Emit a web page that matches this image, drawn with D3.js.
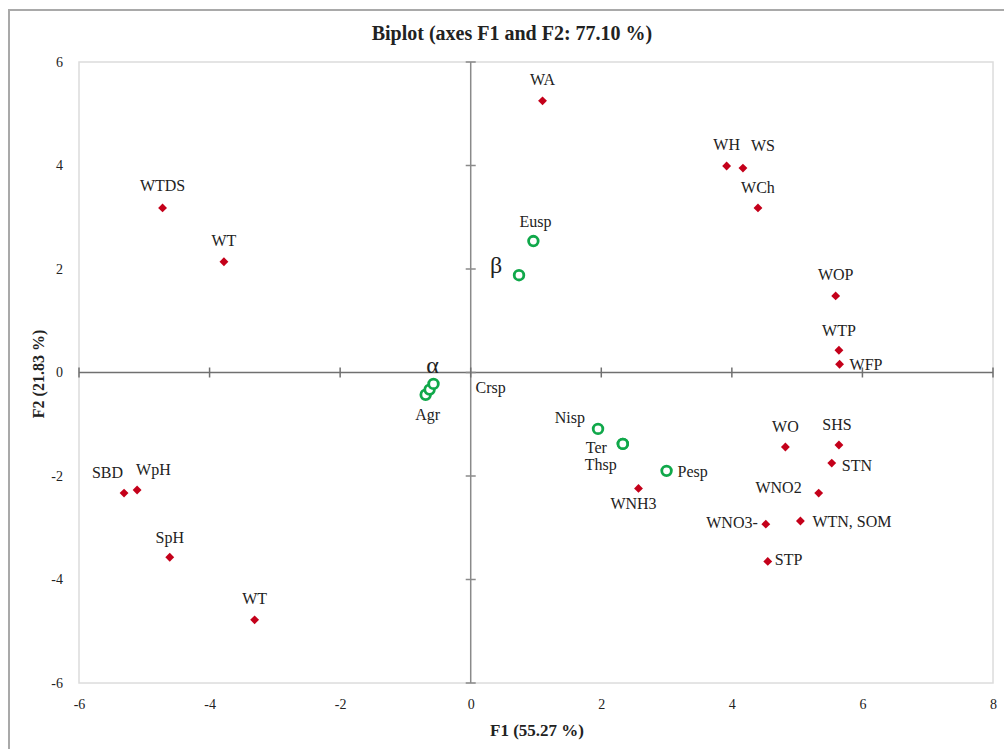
<!DOCTYPE html>
<html>
<head>
<meta charset="utf-8">
<script src="https://cdn.jsdelivr.net/npm/d3@7/dist/d3.min.js"></script>
<style>
  html, body { margin: 0; padding: 0; background: #fff; }
  svg text { font-family: "Liberation Serif", "DejaVu Serif", serif; fill: #222; }
</style>
</head>
<body>
<svg id="chart" width="1004" height="749"></svg>
<script>
// ---- data ----
const varNames = ["WA","WH","WS","WCh","WOP","WTP","WFP","WTDS","WT","SBD","WpH","SpH","WT","WNH3","WO","SHS","STN","WNO2","WNO3-","WTN, SOM","STP"];
const varF1 = [1.10, 3.92, 4.17, 4.40, 5.59, 5.64, 5.65, -4.72, -3.78, -5.31, -5.11, -4.61, -3.31, 2.57, 4.82, 5.64, 5.53, 5.33, 4.52, 5.05, 4.55];
const varF2 = [5.25, 3.99, 3.95, 3.18, 1.48, 0.43, 0.16, 3.18, 2.14, -2.33, -2.27, -3.57, -4.78, -2.24, -1.44, -1.40, -1.75, -2.33, -2.93, -2.87, -3.65];

const obsNames = ["Eusp","β","Nisp","Ter","Thsp","Pesp","Agr","α","Crsp"];
const obsF1 = [0.96, 0.74, 1.95, 2.33, 2.33, 3.00, -0.69, -0.63, -0.57];
const obsF2 = [2.54, 1.88, -1.09, -1.38, -1.38, -1.90, -0.43, -0.33, -0.22];

const xTicks = [-6, -4, -2, 0, 2, 4, 6, 8];
const yTicks = [-6, -4, -2, 0, 2, 4, 6];

const titleText = "Biplot (axes F1 and F2: 77.10 %)";
const xTitle = "F1 (55.27 %)";
const yTitle = "F2 (21.83 %)";

// ---- label layout (pixel offsets from the marker) ----
const varLabelLayout = [
  [0,-21,"middle"],[0,-22,"middle"],[20,-23,"middle"],[0,-20,"middle"],[0,-21,"middle"],
  [0,-20,"middle"],[10,0,"start"],[0,-22,"middle"],[0,-21,"middle"],[-1,-21,"end"],
  [-1,-20,"start"],[0,-20,"middle"],[0,-21,"middle"],[-5,15,"middle"],[0,-21,"middle"],
  [-2,-20,"middle"],[10,2,"start"],[-17,-6,"end"],[-8,-2,"end"],[12,0,"start"],[7,-2,"start"]
];
const obsLabelLayout = [
  [2,-20,"middle"],[-23,-10,"middle"],[-13,-11,"end"],[-16,4,"end"],[-6,21,"end"],
  [11,1,"start"],[2,20,"middle"],[3,-25,"middle"],[42,4,"start"]
];
const greek = new Set(["α","β"]);

// ---- layout ----
const svg = d3.select("#chart");
const plot = {left: 79, right: 993, top: 62, bottom: 683};

const x = d3.scaleLinear().domain([-6, 8]).range([plot.left, plot.right]);
const y = d3.scaleLinear().domain([-6, 6]).range([plot.bottom, plot.top]);

// outer frame
svg.append("rect")
  .attr("x", 9).attr("y", 10).attr("width", 1100).attr("height", 900)
  .attr("fill", "none").attr("stroke", "#a9a9a9").attr("stroke-width", 2);

// plot area border
svg.append("rect")
  .attr("x", plot.left).attr("y", plot.top)
  .attr("width", plot.right - plot.left).attr("height", plot.bottom - plot.top)
  .attr("fill", "none").attr("stroke", "#dcdcdc").attr("stroke-width", 1.5);

// title
svg.append("text")
  .attr("x", 512).attr("y", 33)
  .attr("text-anchor", "middle").attr("dominant-baseline", "central")
  .attr("font-weight", "bold").attr("font-size", 20)
  .text(titleText);

// tick labels via axes (on plot edges, no lines)
const xAxis = svg.append("g")
  .attr("transform", `translate(0,${plot.bottom})`)
  .call(d3.axisBottom(x).tickValues(xTicks).tickSize(0).tickPadding(16).tickFormat(d => String(d)));
const yAxis = svg.append("g")
  .attr("transform", `translate(${plot.left},0)`)
  .call(d3.axisLeft(y).tickValues(yTicks).tickSize(0).tickPadding(16).tickFormat(d => String(d)));
[xAxis, yAxis].forEach(g => {
  g.select(".domain").remove();
  g.selectAll("text").attr("font-size", 14).attr("fill", "#333");
});

// zero axis lines with crossing ticks
const axisColor = "#8a8a8a";
svg.append("line")
  .attr("x1", x(0)).attr("x2", x(0)).attr("y1", plot.top).attr("y2", plot.bottom)
  .attr("stroke", axisColor).attr("stroke-width", 1.5);
svg.append("line")
  .attr("x1", plot.left).attr("x2", plot.right).attr("y1", y(0)).attr("y2", y(0))
  .attr("stroke", "#707070").attr("stroke-width", 1.5);
svg.append("g").selectAll("line").data(yTicks).join("line")
  .attr("x1", x(0) - 5).attr("x2", x(0) + 5)
  .attr("y1", d => y(d)).attr("y2", d => y(d))
  .attr("stroke", axisColor).attr("stroke-width", 1.5);
svg.append("g").selectAll("line").data(xTicks).join("line")
  .attr("y1", y(0) - 5).attr("y2", y(0) + 5)
  .attr("x1", d => x(d)).attr("x2", d => x(d))
  .attr("stroke", "#707070").attr("stroke-width", 1.5);

// axis titles
svg.append("text")
  .attr("x", 537).attr("y", 730)
  .attr("text-anchor", "middle").attr("dominant-baseline", "central")
  .attr("font-weight", "bold").attr("font-size", 17)
  .text(xTitle);
svg.append("text")
  .attr("transform", `translate(38,374) rotate(-90)`)
  .attr("text-anchor", "middle").attr("dominant-baseline", "central")
  .attr("font-weight", "bold").attr("font-size", 16)
  .text(yTitle);

// variables: red diamonds
const vars = varNames.map((n, i) => ({name: n, f1: varF1[i], f2: varF2[i], lay: varLabelLayout[i]}));
const diamond = d3.symbol().type(d3.symbolDiamond2).size(50);
svg.append("g").selectAll("path").data(vars).join("path")
  .attr("d", diamond)
  .attr("transform", d => `translate(${x(d.f1)},${y(d.f2)})`)
  .attr("fill", "#c4001a");
svg.append("g").selectAll("text").data(vars).join("text")
  .attr("x", d => x(d.f1) + d.lay[0])
  .attr("y", d => y(d.f2) + d.lay[1])
  .attr("text-anchor", d => d.lay[2])
  .attr("dominant-baseline", "central")
  .attr("font-size", 16)
  .text(d => d.name);

// observations: green open circles
const obs = obsNames.map((n, i) => ({name: n, f1: obsF1[i], f2: obsF2[i], lay: obsLabelLayout[i]}));
svg.append("g").selectAll("circle").data(obs).join("circle")
  .attr("cx", d => x(d.f1)).attr("cy", d => y(d.f2))
  .attr("r", 4.8)
  .attr("fill", "#fff").attr("stroke", "#10a84a").attr("stroke-width", 2.8);
svg.append("g").selectAll("text").data(obs).join("text")
  .attr("x", d => x(d.f1) + d.lay[0])
  .attr("y", d => y(d.f2) + d.lay[1])
  .attr("text-anchor", d => d.lay[2])
  .attr("dominant-baseline", "central")
  .attr("font-size", d => greek.has(d.name) ? 24 : 16)
  .text(d => d.name);
</script>
</body>
</html>
